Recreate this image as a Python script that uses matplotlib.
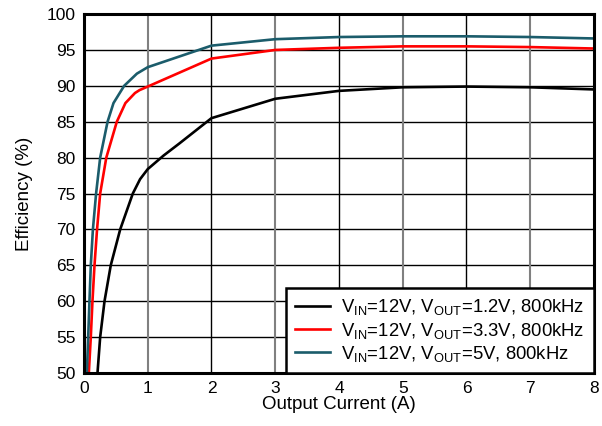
import numpy as np
import matplotlib
matplotlib.use("Agg")
import matplotlib.pyplot as plt

plt.rcParams['font.family'] = ['Liberation Sans', 'DejaVu Sans']
plt.rcParams['mathtext.fontset'] = 'custom'
plt.rcParams['mathtext.rm'] = 'Liberation Sans'
plt.rcParams['mathtext.it'] = 'Liberation Sans'

# Dados (corrente em A, eficiência em %)
x_1v2 = [0.212, 0.254, 0.322, 0.42, 0.568, 0.766, 0.88, 1.0, 1.25, 1.5, 2.0, 3.0, 4.0, 5.0, 6.0, 7.0, 8.0]
y_1v2 = [50.0, 55.0, 60.0, 65.0, 70.0, 75.0, 77.0, 78.4, 80.3, 82.0, 85.5, 88.2, 89.3, 89.8, 89.9, 89.8, 89.5]

x_3v3 = [0.076, 0.107, 0.133, 0.165, 0.205, 0.254, 0.35, 0.515, 0.65, 0.80, 0.87, 1.0, 2.0, 3.0, 4.0, 5.0, 6.0, 7.0, 8.0]
y_3v3 = [50.0, 55.0, 60.0, 65.0, 70.0, 75.0, 80.0, 85.0, 87.6, 89.0, 89.4, 89.9, 93.8, 95.0, 95.3, 95.5, 95.5, 95.4, 95.2]

x_5v = [0.045, 0.066, 0.086, 0.107, 0.14, 0.19, 0.254, 0.37, 0.463, 0.63, 0.83, 1.0, 2.0, 3.0, 4.0, 5.0, 6.0, 7.0, 8.0]
y_5v = [50.0, 55.0, 60.0, 65.0, 70.0, 75.0, 80.0, 85.0, 87.6, 90.0, 91.7, 92.6, 95.6, 96.5, 96.8, 96.9, 96.9, 96.8, 96.6]

rotulos = [r"V$_{\mathrm{IN}}$=12V, V$_{\mathrm{OUT}}$=1.2V, 800kHz",
           r"V$_{\mathrm{IN}}$=12V, V$_{\mathrm{OUT}}$=3.3V, 800kHz",
           r"V$_{\mathrm{IN}}$=12V, V$_{\mathrm{OUT}}$=5V, 800kHz"]
cores = ['#000000', '#ff0000', '#1b5c6b']

x_ticks = list(range(0, 9))
y_ticks = list(range(50, 101, 5))

fig = plt.figure(figsize=(6.02, 4.26), dpi=100)
ax = fig.add_axes([0.1395, 0.1244, 0.8472, 0.8426])

# grade: horizontais pretas, verticais alternando preto/cinza
for yv in y_ticks:
    ax.axhline(yv, color='black', lw=1.0, zorder=1)
for xv in x_ticks:
    ax.axvline(xv, color='black' if xv % 2 == 0 else '#808080',
               lw=1.0 if xv % 2 == 0 else 1.5, zorder=1)

for xs, ys, c, lab in zip([x_1v2, x_3v3, x_5v], [y_1v2, y_3v3, y_5v], cores, rotulos):
    ax.plot(xs, ys, color=c, lw=1.9, label=lab, zorder=3)

ax.set_xlim(0, 8)
ax.set_ylim(50, 100)
ax.set_xticks(x_ticks)
ax.set_yticks(y_ticks)
ax.tick_params(length=0, labelsize=12.5, pad=6)
for s in ax.spines.values():
    s.set_linewidth(2.2)
    s.set_zorder(5)

ax.set_xlabel("Output Current (A)", fontsize=13.5, labelpad=0)
ax.set_ylabel("Efficiency (%)", fontsize=13.5, labelpad=10)

leg = ax.legend(loc='lower right', fontsize=13.3, frameon=True, fancybox=False,
                framealpha=1, edgecolor='black', borderaxespad=0.0,
                handlelength=1.9, handletextpad=0.6, labelspacing=0.17, borderpad=0.5)
leg.get_frame().set_linewidth(1.8)
leg.set_zorder(6)

plt.savefig("out.png", dpi=100)
